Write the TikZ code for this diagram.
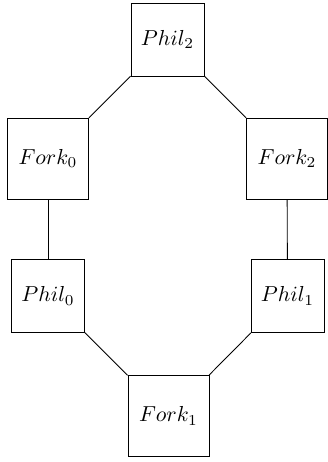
\documentclass[tikz,border=0pt]{standalone}

\tikzset{every picture/.style={line width=0.4pt}}
\tikzset{phil/.style={draw, minimum size=33.6pt, inner sep=0.75pt}}
\tikzset{fork/.style={draw, minimum size=37.3pt, inner sep=0.75pt}}

\begin{document}
\begin{tikzpicture}[x=0.4608pt,y=0.4608pt,yscale=-1,xscale=1]
\useasboundingbox (0,0) rectangle (327,462); %set diagram to the reference size

% Philosophers
\node [phil] (phil2) at (167.5,39.5) {$Phil_{2}$};
\node [phil] (phil0) at (48,296) {$Phil_{0}$};
\node [phil] (phil1) at (287.5,296) {$Phil_{1}$};
% Forks
\node [fork] (fork0) at (48,158.5) {$Fork_{0}$};
\node [fork] (fork2) at (287,158.5) {$Fork_{2}$};
\node [fork] (fork1) at (168.5,416) {$Fork_{1}$};

%Straight Lines
\draw (phil2) -- (fork0) ;
\draw (phil2) -- (fork2) ;
\draw (fork0) -- (phil0) ;
\draw (fork2) -- (phil1) ;
\draw (phil0) -- (fork1) ;
\draw (phil1) -- (fork1) ;
\end{tikzpicture}
\end{document}
